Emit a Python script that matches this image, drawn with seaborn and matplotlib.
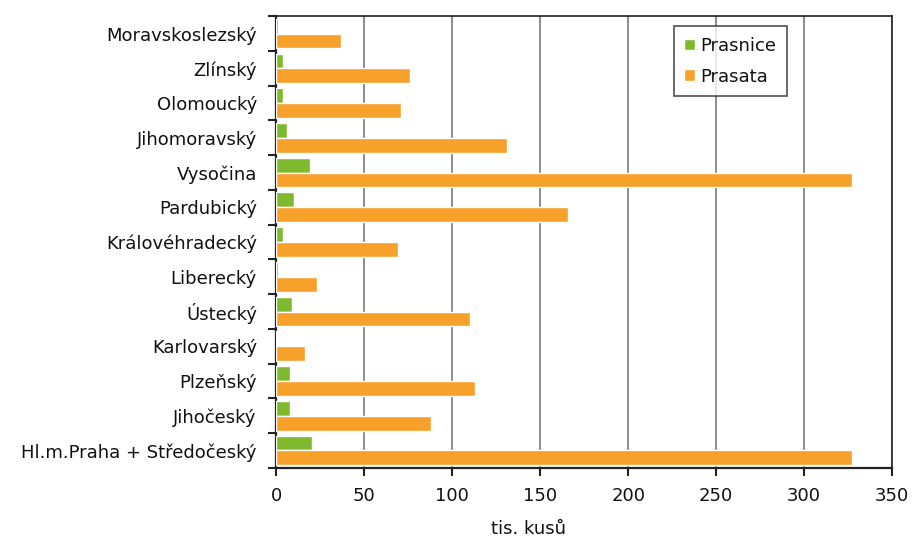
import numpy as np
import pandas as pd
import matplotlib
matplotlib.use("Agg")
import matplotlib.pyplot as plt
import seaborn as sns

kraje = ["Moravskoslezský", "Zlínský", "Olomoucký", "Jihomoravský", "Vysočina",
         "Pardubický", "Královéhradecký", "Liberecký", "Ústecký", "Karlovarský",
         "Plzeňský", "Jihočeský", "Hl.m.Praha + Středočeský"]
prasnice = [1, 4, 4, 6, 19, 10, 4, 1, 9, 0.5, 7.5, 7.5, 20]
prasata = [37, 76, 71, 131, 327, 166, 69, 23, 110, 16.5, 113, 88, 327]
serie = ["Prasnice", "Prasata"]
barvy = ["#7fba2e", "#f7a02a"]

df = pd.DataFrame({
    "Kraj": kraje * 2,
    "Hodnota": prasnice + prasata,
    "Serie": ["Prasnice"] * len(kraje) + ["Prasata"] * len(kraje),
})

sns.set_style("white")
plt.rcParams["font.family"] = ["DejaVu Sans"]
plt.rcParams["text.color"] = "#111111"
plt.rcParams["xtick.color"] = "#111111"
plt.rcParams["ytick.color"] = "#111111"
plt.rcParams["axes.labelcolor"] = "#111111"
fs = 13

fig = plt.figure(figsize=(9.15, 5.39), dpi=100)
ax = fig.add_axes([0.302, 0.132, 0.673, 0.838])

sns.barplot(data=df, y="Kraj", x="Hodnota", hue="Serie", order=kraje,
            hue_order=serie, palette=barvy, orient="h", width=0.85,
            gap=0, saturation=1, ax=ax, zorder=3)

ax.set_xlim(0, 350)
ax.set_ylim(len(kraje) - 0.5, -0.5)
ax.set_xticks(np.arange(0, 351, 50))
ax.grid(axis="x", color="#8c8c8c", linewidth=1.4, zorder=0)
ax.set_axisbelow(True)
for s in ax.spines.values():
    s.set_visible(True)
    s.set_color("#222222")
    s.set_linewidth(1.2)
ax.spines["left"].set_linewidth(1.6)
ax.spines["bottom"].set_linewidth(1.6)

ax.set_yticks(np.arange(len(kraje)))
ax.set_yticklabels(kraje, fontsize=fs)
ax.set_yticks(np.arange(len(kraje) + 1) - 0.5, minor=True)
ax.tick_params(axis="y", which="major", length=0, pad=14)
ax.tick_params(axis="y", which="minor", length=6, width=1.5, color="#222222", direction="out", left=True)
ax.tick_params(axis="x", length=6, width=1.5, color="#222222", direction="out", bottom=True, labelsize=fs, pad=8)

ax.set_ylabel("")
ax.set_xlabel("tis. kusů", fontsize=fs)
ax.xaxis.set_label_coords(0.41, -0.115)

leg = ax.legend(loc="upper right", bbox_to_anchor=(0.83, 0.978), borderaxespad=0,
                frameon=True, fancybox=False, fontsize=fs, handlelength=0.6,
                handleheight=0.6, handletextpad=0.3, labelspacing=0.7, borderpad=0.6)
leg.get_frame().set_edgecolor("#222222")
leg.get_frame().set_linewidth(1.2)
leg.set_title(None)

fig.savefig("out.png", dpi=100)
